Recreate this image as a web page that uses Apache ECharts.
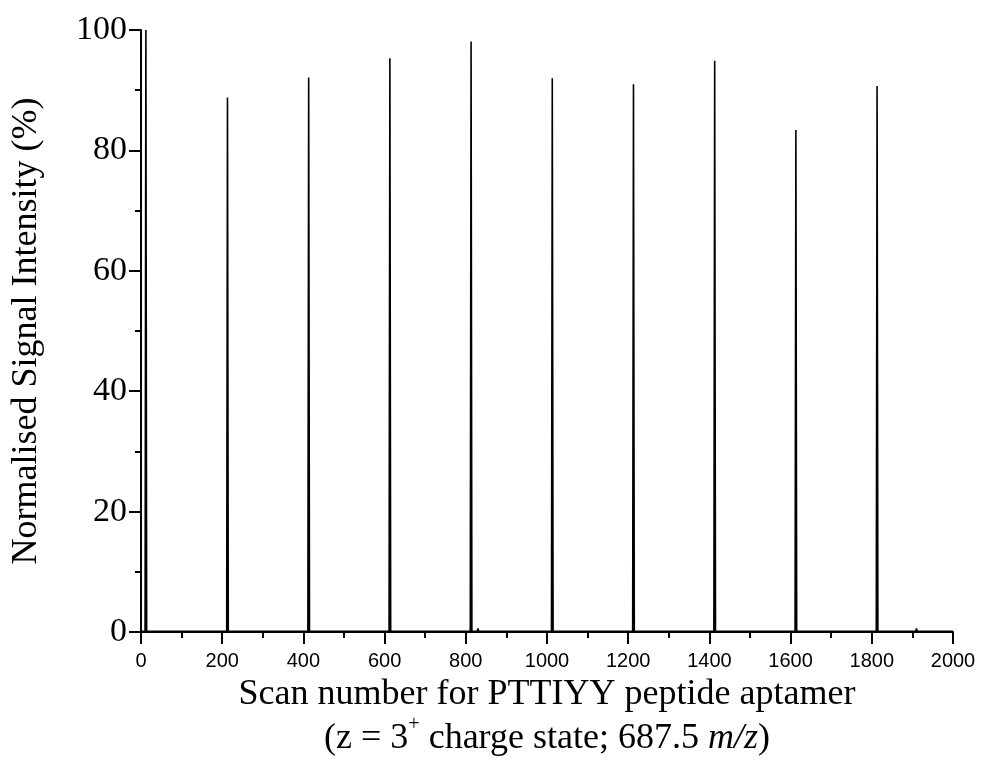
<!DOCTYPE html>
<html>
<head>
<meta charset="utf-8">
<style>
  html, body { margin: 0; padding: 0; background: #fff; }
  #chart { width: 981px; height: 776px; }
</style>
<script src="https://cdn.jsdelivr.net/npm/echarts@6/dist/echarts.min.js"></script>
</head>
<body>
<div id="chart"></div>
<script>
// Scan numbers and normalised intensities of the 687.5 m/z trace
const scanNumber = [0, 10, 12, 14, 211, 213, 215, 411, 413, 415, 611, 613, 615,
  811, 813, 815, 828, 830, 832, 1011, 1013, 1015, 1211, 1213, 1215,
  1411, 1413, 1415, 1611, 1613, 1615, 1811, 1813, 1815, 1908, 1910, 1912, 2000];
const intensity = [0.1, 0.1, 100, 0.1, 0.1, 88.8, 0.1, 0.1, 92.1, 0.1, 0.1, 95.3, 0.1,
  0.1, 98.1, 0.1, 0.1, 0.6, 0.1, 0.1, 92.0, 0.1, 0.1, 91.0, 0.1,
  0.1, 94.9, 0.1, 0.1, 83.4, 0.1, 0.1, 90.7, 0.1, 0.1, 0.6, 0.1, 0.1];

// Axis ticks
const xTicks = [0, 200, 400, 600, 800, 1000, 1200, 1400, 1600, 1800, 2000];
const yTicks = [0, 20, 40, 60, 80, 100];

const xTitle = 'Scan number for PTTIYY peptide aptamer';
const yTitle = 'Normalised Signal Intensity (%)';

const serif = '"Liberation Serif", "Times New Roman", serif';
const sans = '"Liberation Sans", Arial, sans-serif';

const chart = echarts.init(document.getElementById('chart'), null, { renderer: 'canvas' });

const axisLineStyle = { color: '#000', width: 2 };

chart.setOption({
  animation: false,
  backgroundColor: '#fff',
  grid: { left: 141, right: 28, top: 30, bottom: 144, containLabel: false },
  xAxis: {
    type: 'value',
    min: xTicks[0],
    max: xTicks[xTicks.length - 1],
    interval: xTicks[1] - xTicks[0],
    axisLine: { show: true, onZero: false, lineStyle: axisLineStyle },
    axisTick: { show: true, inside: false, length: 12, lineStyle: axisLineStyle },
    minorTick: { show: true, splitNumber: 2, length: 6, lineStyle: axisLineStyle },
    splitLine: { show: false },
    axisLabel: {
      color: '#000', fontFamily: sans, fontSize: 20, margin: 19,
      formatter: v => String(v)
    }
  },
  yAxis: {
    type: 'value',
    min: yTicks[0],
    max: yTicks[yTicks.length - 1],
    interval: yTicks[1] - yTicks[0],
    axisLine: { show: true, lineStyle: axisLineStyle },
    axisTick: { show: true, inside: false, length: 12, lineStyle: axisLineStyle },
    minorTick: { show: true, splitNumber: 2, length: 6, lineStyle: axisLineStyle },
    splitLine: { show: false },
    axisLabel: {
      color: '#000', fontFamily: serif, fontSize: 34, margin: 14,
      formatter: v => String(v)
    }
  },
  series: [{
    type: 'line',
    data: scanNumber.map((s, i) => [s, intensity[i]]),
    showSymbol: false,
    symbol: 'none',
    lineStyle: { color: '#000', width: 1.6 },
    z: 1
  }],
  graphic: [
    {
      type: 'text',
      x: 547, y: 695,
      style: {
        text: xTitle,
        font: '36px ' + serif,
        fill: '#000',
        textAlign: 'center',
        textVerticalAlign: 'middle'
      }
    },
    {
      type: 'text',
      x: 547, y: 736,
      style: {
        text: '{a|(z = 3}{sup|+}{a| charge state; 687.5 }{i|m/z}{a|)}',
        fill: '#000',
        textAlign: 'center',
        textVerticalAlign: 'middle',
        rich: {
          a: { fontFamily: serif, fontSize: 36, fill: '#000', verticalAlign: 'bottom' },
          i: { fontFamily: serif, fontSize: 36, fontStyle: 'italic', fill: '#000', verticalAlign: 'bottom' },
          sup: { fontFamily: serif, fontSize: 20, fill: '#000', verticalAlign: 'top', padding: [0, 0, 22, 0] }
        }
      }
    },
    {
      type: 'text',
      x: 27, y: 331,
      rotation: Math.PI / 2,
      style: {
        text: yTitle,
        font: '36px ' + serif,
        fill: '#000',
        textAlign: 'center',
        textVerticalAlign: 'middle'
      }
    }
  ]
});
</script>
</body>
</html>
